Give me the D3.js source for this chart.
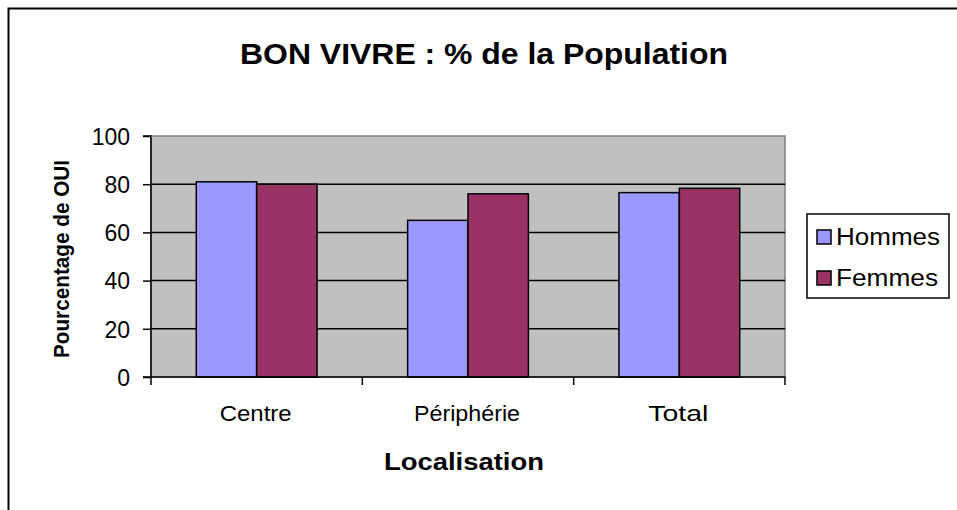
<!DOCTYPE html>
<html>
<head>
<meta charset="utf-8">
<script src="https://cdn.jsdelivr.net/npm/d3@7"></script>
<style>
  body { margin: 0; background: #fff; }
  text { font-family: Arial, "Liberation Sans", sans-serif; fill: #000; }
</style>
</head>
<body>
<div id="chart"></div>
<script>
// données
const categories = ['Centre', 'Périphérie', 'Total'];
const seriesNames = ['Hommes', 'Femmes'];
const hommes = [81, 65, 76.5];
const femmes = [80, 76, 78.3];
const yTicks = [0, 20, 40, 60, 80, 100];

const colors = {Hommes: '#9999FF', Femmes: '#993366'};

const width = 957;
const height = 510;
const plot = {left: 151, top: 136, right: 785, bottom: 377};

const svg = d3.select('div#chart').append('svg').attr('width', width).attr('height', height);

// cadre extérieur
svg.append('rect')
    .attr('x', 8.5).attr('y', 8.5)
    .attr('width', 960).attr('height', 520)
    .attr('fill', '#fff').attr('stroke', '#000').attr('stroke-width', 2);

const x = d3.scaleBand().domain(categories).range([plot.left, plot.right]).paddingInner(0).paddingOuter(0);
const x1 = d3.scaleBand().domain(seriesNames).range([0, x.bandwidth()]).paddingInner(0).paddingOuter(0.75);
const y = d3.scaleLinear().domain([0, 100]).range([plot.bottom, plot.top]);

// fond de la zone de traçage
svg.append('rect')
    .attr('x', plot.left).attr('y', plot.top)
    .attr('width', plot.right - plot.left).attr('height', plot.bottom - plot.top)
    .attr('fill', '#C0C0C0').attr('stroke', '#808080').attr('stroke-width', 1.5);

// quadrillage
svg.append('g').selectAll('line').data(yTicks.filter(d => d > 0 && d < 100)).join('line')
    .attr('x1', plot.left).attr('x2', plot.right)
    .attr('y1', d => y(d)).attr('y2', d => y(d))
    .attr('stroke', '#000').attr('stroke-width', 1.5);

// barres
const data = [];
categories.forEach((c, i) => {
    data.push({cat: c, serie: 'Hommes', value: hommes[i]});
    data.push({cat: c, serie: 'Femmes', value: femmes[i]});
});
svg.append('g').selectAll('rect').data(data).join('rect')
    .attr('x', d => x(d.cat) + x1(d.serie))
    .attr('y', d => y(d.value))
    .attr('width', x1.bandwidth())
    .attr('height', d => y(0) - y(d.value))
    .attr('fill', d => colors[d.serie])
    .attr('stroke', '#000').attr('stroke-width', 1.5);

// axe Y
const yAxis = d3.axisLeft(y).tickValues(yTicks).tickSize(8).tickPadding(13);
const yAxisGroup = svg.append('g').attr('transform', `translate(${plot.left},0)`).call(yAxis);
yAxisGroup.select('.domain').attr('stroke', '#000').attr('stroke-width', 1.5).attr('d', `M-8,${plot.top}H0V${plot.bottom}`);
yAxisGroup.selectAll('line').attr('stroke-width', 1.5);
yAxisGroup.selectAll('text')
    .attr('font-family', 'Arial, "Liberation Sans", sans-serif')
    .attr('font-size', 23)
    .attr('dy', '0.36em');

// axe X
const xAxisGroup = svg.append('g').attr('transform', `translate(0,${plot.bottom})`);
xAxisGroup.append('line')
    .attr('x1', plot.left - 8).attr('x2', plot.right)
    .attr('stroke', '#000').attr('stroke-width', 1.5);
const xTicks = categories.map(c => x(c)).concat([plot.right]);
xAxisGroup.selectAll('.tk').data(xTicks).join('line')
    .attr('class', 'tk')
    .attr('x1', d => d).attr('x2', d => d)
    .attr('y1', 0).attr('y2', 8)
    .attr('stroke', '#000').attr('stroke-width', 1.5);
const catWidths = {Centre: 72, 'Périphérie': 106, Total: 60};
xAxisGroup.selectAll('.lbl').data(categories).join('text')
    .attr('class', 'lbl')
    .attr('x', d => x(d) + x.bandwidth() / 2 - 1)
    .attr('y', 44)
    .attr('text-anchor', 'middle')
    .attr('textLength', d => catWidths[d])
    .attr('lengthAdjust', 'spacingAndGlyphs')
    .style('font-size', '22px')
    .text(d => d);

// titres
svg.append('text')
    .attr('x', 484).attr('y', 64)
    .attr('text-anchor', 'middle')
    .attr('textLength', 488)
    .attr('lengthAdjust', 'spacingAndGlyphs')
    .style('font-size', '29px').style('font-weight', 'bold')
    .text('BON VIVRE : % de la Population');

svg.append('text')
    .attr('x', 464).attr('y', 470)
    .attr('text-anchor', 'middle')
    .attr('textLength', 160)
    .attr('lengthAdjust', 'spacingAndGlyphs')
    .style('font-size', '23px').style('font-weight', 'bold')
    .text('Localisation');

svg.append('text')
    .attr('transform', `translate(69,${259}) rotate(-90)`)
    .attr('text-anchor', 'middle')
    .attr('textLength', 198)
    .attr('lengthAdjust', 'spacingAndGlyphs')
    .style('font-size', '22px').style('font-weight', 'bold')
    .text('Pourcentage de OUI');

// légende
const legend = svg.append('g').attr('transform', 'translate(807,214)');
legend.append('rect')
    .attr('width', 142).attr('height', 84)
    .attr('fill', '#fff').attr('stroke', '#000').attr('stroke-width', 1.5);
const items = legend.selectAll('g').data(seriesNames).join('g')
    .attr('transform', (d, i) => `translate(10,${23 + i * 41})`);
items.append('rect')
    .attr('x', 0).attr('y', -7)
    .attr('width', 14).attr('height', 14)
    .attr('fill', d => colors[d]).attr('stroke', '#000').attr('stroke-width', 1.5);
items.append('text')
    .attr('x', 19).attr('y', 8)
    .attr('textLength', d => d === 'Hommes' ? 104 : 102)
    .attr('lengthAdjust', 'spacingAndGlyphs')
    .style('font-size', '23px')
    .text(d => d);
</script>
</body>
</html>
